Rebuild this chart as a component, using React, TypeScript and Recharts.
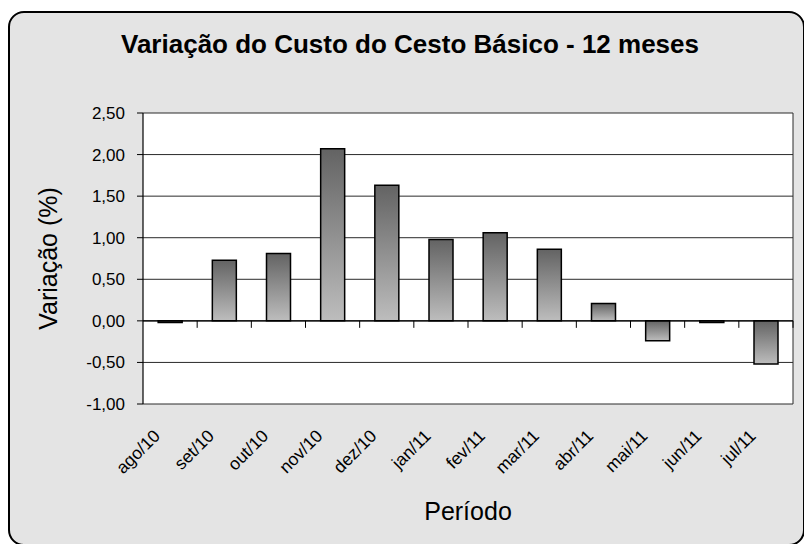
import { BarChart, Bar, XAxis, YAxis, CartesianGrid, ReferenceLine } from 'recharts'

const MONTHS = ['ago/10', 'set/10', 'out/10', 'nov/10', 'dez/10', 'jan/11', 'fev/11', 'mar/11', 'abr/11', 'mai/11', 'jun/11', 'jul/11']
const VARIACAO = [-0.02, 0.73, 0.81, 2.07, 1.63, 0.98, 1.06, 0.86, 0.21, -0.24, -0.02, -0.52]
const Y_TICKS = [-1, -0.5, 0, 0.5, 1, 1.5, 2, 2.5]

const data = MONTHS.map((m, i) => ({ mes: m, valor: VARIACAO[i] }))

const FONT = '"Liberation Sans", Arial, sans-serif'

const fmt = (v: number) => v.toFixed(2).replace('.', ',')

function MonthTick(props: any) {
  const { x, y, payload } = props
  const tx = x - 9
  const ty = y + 33
  return (
    <text
      x={tx}
      y={ty}
      textAnchor="end"
      transform={`rotate(-45, ${tx}, ${ty})`}
      fontSize={17.5}
      fontFamily={FONT}
      fill="#000"
    >
      {payload.value}
    </text>
  )
}

// zero line with the category separator ticks hanging below it
function ZeroAxis(props: any) {
  const { x1, y1, x2, y2 } = props
  const n = MONTHS.length
  const step = (x2 - x1) / n
  const marks = []
  for (let i = 1; i <= n; i++) {
    const xx = x1 + step * i
    marks.push(<line key={i} x1={xx} y1={y1} x2={xx} y2={y1 + 7} stroke="#000" strokeWidth={1} />)
  }
  return (
    <g>
      <line x1={x1} y1={y1} x2={x2} y2={y2} stroke="#000" strokeWidth={1.2} />
      {marks}
    </g>
  )
}

export default function App() {
  return (
    <div style={{ position: 'absolute', left: 0, top: 0, width: 804, height: 544, overflow: 'hidden', fontFamily: FONT }}>
      <div
        style={{
          position: 'absolute',
          left: 8,
          top: 11,
          width: 797,
          height: 535,
          boxSizing: 'border-box',
          border: '2px solid #000',
          borderRadius: 16,
          background: '#e4e4e4',
        }}
      />
      <div
        style={{
          position: 'absolute',
          left: 0,
          top: 29,
          width: 820,
          textAlign: 'center',
          fontSize: 26,
          lineHeight: '30px',
          fontWeight: 'bold',
          color: '#000',
        }}
      >
        Variação do Custo do Cesto Básico - 12 meses
      </div>
      <div style={{ position: 'absolute', left: 0, top: 0 }}>
        <BarChart
          width={804}
          height={544}
          data={data}
          margin={{ top: 113, right: 11, bottom: 60, left: 83 }}
          barCategoryGap="28%"
        >
          <defs>
            <linearGradient id="barGrad" x1="0" y1="0" x2="0" y2="1">
              <stop offset="0%" stopColor="#636363" />
              <stop offset="100%" stopColor="#bdbdbd" />
            </linearGradient>
          </defs>
          <CartesianGrid
            fill="#fff"
            stroke="#2a2a2a"
            horizontal
            vertical
            verticalCoordinatesGenerator={({ offset }: any) => [offset.left + offset.width]}
          />
          <XAxis
            dataKey="mes"
            axisLine={false}
            tickLine={false}
            tickSize={0}
            tickMargin={0}
            height={80}
            interval={0}
            tick={<MonthTick />}
            label={{ value: 'Período', position: 'center', dy: 67, fontSize: 25, fontFamily: FONT, fill: '#000' }}
          />
          <YAxis
            domain={[-1, 2.5]}
            ticks={Y_TICKS}
            width={60}
            interval={0}
            tickFormatter={fmt}
            axisLine={{ stroke: '#000', strokeWidth: 1.2 }}
            tickLine={{ stroke: '#000' }}
            tickSize={6}
            tickMargin={12}
            tick={{ fontSize: 17, fontFamily: FONT, fill: '#000' }}
            label={{ value: 'Variação (%)', angle: -90, position: 'center', dx: -65, fontSize: 25, fontFamily: FONT, fill: '#000' }}
          />
          <Bar dataKey="valor" fill="url(#barGrad)" stroke="#000" strokeWidth={1.5} isAnimationActive={false} />
          <ReferenceLine y={0} shape={<ZeroAxis />} />
        </BarChart>
      </div>
    </div>
  )
}
